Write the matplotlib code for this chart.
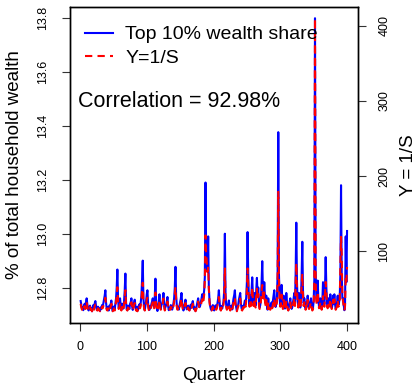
import matplotlib
matplotlib.use("Agg")
import matplotlib.pyplot as plt
import numpy as np

plt.rcParams['font.family'] = ['Liberation Sans', 'DejaVu Sans']

# Top 10% wealth share (% of total household wealth), quarters 1..400
top10_share = [
    12.750, 12.735, 12.722, 12.728, 12.716, 12.731, 12.740, 12.725, 12.745, 12.760, 12.738, 12.720, 12.715, 12.727, 12.733, 12.719, 12.724, 12.712, 12.726, 12.735,
    12.722, 12.741, 12.750, 12.733, 12.720, 12.716, 12.729, 12.724, 12.718, 12.713, 12.726, 12.721, 12.735, 12.728, 12.742, 12.755, 12.770, 12.790, 12.745, 12.722,
    12.718, 12.728, 12.715, 12.733, 12.726, 12.738, 12.752, 12.724, 12.713, 12.721, 12.730, 12.719, 12.741, 12.760, 12.800, 12.867, 12.760, 12.725, 12.736, 12.760,
    12.731, 12.718, 12.740, 12.727, 12.722, 12.748, 12.790, 12.852, 12.745, 12.720, 12.716, 12.733, 12.728, 12.721, 12.739, 12.746, 12.760, 12.731, 12.717, 12.728,
    12.744, 12.755, 12.733, 12.719, 12.726, 12.713, 12.730, 12.722, 12.738, 12.727, 12.745, 12.770, 12.830, 12.900, 12.760, 12.728, 12.716, 12.734, 12.749, 12.775,
    12.790, 12.741, 12.722, 12.717, 12.731, 12.726, 12.739, 12.748, 12.760, 12.735, 12.728, 12.765, 12.833, 12.752, 12.724, 12.713, 12.730, 12.745, 12.775, 12.738,
    12.722, 12.735, 12.741, 12.752, 12.780, 12.740, 12.719, 12.728, 12.734, 12.748, 12.765, 12.732, 12.716, 12.724, 12.720, 12.735, 12.729, 12.718, 12.726, 12.741,
    12.760, 12.800, 12.877, 12.770, 12.735, 12.721, 12.729, 12.718, 12.733, 12.745, 12.758, 12.780, 12.744, 12.726, 12.715, 12.731, 12.739, 12.755, 12.727, 12.719,
    12.724, 12.733, 12.721, 12.716, 12.728, 12.737, 12.725, 12.741, 12.750, 12.731, 12.719, 12.726, 12.713, 12.722, 12.735, 12.748, 12.760, 12.739, 12.727, 12.733,
    12.745, 12.758, 12.775, 12.752, 12.768, 12.790, 12.840, 13.190, 12.930, 12.880, 12.860, 12.990, 12.800, 12.752, 12.731, 12.720, 12.716, 12.728, 12.735, 12.722,
    12.715, 12.726, 12.734, 12.721, 12.729, 12.743, 12.760, 12.790, 12.748, 12.724, 12.716, 12.731, 12.722, 12.735, 12.748, 12.790, 13.000, 12.775, 12.735, 12.721,
    12.729, 12.738, 12.752, 12.727, 12.717, 12.724, 12.733, 12.719, 12.742, 12.760, 12.772, 12.790, 12.745, 12.726, 12.714, 12.729, 12.736, 12.755, 12.768, 12.780,
    12.742, 12.723, 12.718, 12.731, 12.727, 12.740, 12.752, 12.738, 12.765, 12.820, 13.006, 12.850, 12.760, 12.735, 12.770, 12.742, 12.790, 12.838, 12.770, 12.741,
    12.780, 12.752, 12.733, 12.790, 12.836, 12.770, 12.800, 12.749, 12.726, 12.735, 12.760, 12.820, 12.898, 12.790, 12.760, 12.820, 12.768, 12.742, 12.770, 12.731,
    12.718, 12.760, 12.725, 12.731, 12.722, 12.738, 12.745, 12.727, 12.752, 12.770, 12.790, 12.745, 12.728, 12.740, 12.760, 12.850, 13.377, 12.850, 12.760, 12.735,
    12.752, 12.810, 12.745, 12.726, 12.770, 12.738, 12.722, 12.733, 12.780, 12.748, 12.725, 12.716, 12.730, 12.743, 12.760, 12.734, 12.721, 12.728, 12.746, 12.760,
    12.780, 12.740, 12.850, 13.041, 12.820, 12.750, 12.731, 12.780, 12.745, 12.726, 12.760, 12.850, 12.970, 12.790, 12.742, 12.760, 12.733, 12.722, 12.745, 12.729,
    12.770, 12.738, 12.724, 12.731, 12.748, 12.760, 12.735, 12.719, 12.726, 12.750, 12.830, 13.800, 12.860, 12.760, 12.745, 12.826, 12.760, 12.730, 12.741, 12.760,
    12.735, 12.722, 12.748, 12.820, 12.760, 12.738, 12.800, 12.913, 12.800, 12.745, 12.728, 12.760, 12.736, 12.752, 12.775, 12.742, 12.725, 12.733, 12.770, 12.740,
    12.775, 12.738, 12.722, 12.729, 12.744, 12.770, 12.735, 12.745, 12.760, 12.850, 13.180, 12.850, 12.760, 12.760, 12.735, 12.716, 12.740, 12.990, 12.820, 13.010,
]

# Y = 1/S, same quarters
inv_s = [
    30, 25, 22, 24, 21, 25, 27, 23, 29, 32, 26, 22, 21, 23, 26, 22, 23, 20, 24, 26,
    22, 27, 29, 25, 22, 21, 24, 23, 21, 20, 24, 22, 26, 24, 27, 31, 34, 38, 28, 22,
    21, 24, 21, 25, 23, 26, 30, 23, 20, 22, 24, 21, 27, 32, 41, 52, 33, 23, 26, 31,
    25, 21, 27, 24, 22, 29, 39, 48, 28, 22, 21, 25, 24, 22, 27, 28, 32, 25, 21, 24,
    28, 31, 25, 21, 23, 20, 24, 22, 26, 24, 28, 35, 47, 58, 33, 24, 21, 25, 29, 36,
    38, 27, 22, 21, 25, 23, 27, 29, 32, 26, 24, 33, 45, 30, 23, 20, 24, 28, 35, 26,
    22, 26, 27, 30, 37, 27, 21, 24, 25, 29, 33, 25, 21, 23, 22, 26, 24, 21, 23, 27,
    32, 42, 52, 35, 26, 22, 24, 21, 25, 28, 32, 37, 28, 23, 21, 25, 27, 31, 24, 21,
    23, 25, 22, 21, 24, 26, 23, 27, 30, 25, 21, 23, 20, 22, 26, 29, 33, 27, 24, 25,
    28, 32, 36, 30, 34, 42, 62, 121, 96, 84, 72, 78, 50, 32, 25, 22, 21, 24, 26, 22,
    21, 23, 25, 22, 24, 28, 32, 39, 29, 23, 21, 25, 22, 26, 29, 40, 77, 36, 26, 22,
    24, 26, 30, 24, 21, 23, 25, 21, 27, 32, 35, 38, 28, 23, 20, 24, 26, 31, 34, 37,
    27, 22, 21, 25, 24, 27, 30, 26, 34, 48, 77, 55, 33, 26, 35, 27, 40, 52, 35, 27,
    37, 30, 25, 40, 50, 36, 43, 29, 23, 26, 33, 46, 55, 41, 33, 45, 34, 27, 35, 25,
    21, 32, 23, 25, 22, 26, 28, 24, 30, 35, 37, 28, 24, 27, 32, 60, 179, 62, 33, 26,
    30, 42, 28, 23, 35, 26, 22, 25, 34, 29, 23, 21, 24, 28, 32, 25, 22, 24, 28, 32,
    37, 27, 55, 84, 48, 30, 25, 37, 28, 23, 33, 55, 70, 41, 27, 32, 25, 22, 28, 24,
    35, 26, 23, 25, 29, 32, 26, 21, 23, 30, 60, 410, 62, 33, 28, 46, 32, 24, 27, 32,
    26, 22, 29, 40, 33, 26, 44, 59, 45, 28, 24, 32, 26, 30, 36, 27, 23, 25, 35, 27,
    36, 26, 22, 24, 28, 35, 26, 28, 32, 80, 119, 95, 40, 33, 26, 21, 27, 66, 60, 79,
]

quarters = np.arange(1, len(top10_share) + 1)
left_ticks = [12.8, 13.0, 13.2, 13.4, 13.6, 13.8]
right_ticks = [100, 200, 300, 400]
x_ticks = [0, 100, 200, 300, 400]
corr_label = "Correlation = 92.98%"


def padded(vals, frac=0.04):
    lo, hi = min(vals), max(vals)
    pad = (hi - lo) * frac
    return lo - pad, hi + pad


fig = plt.figure(figsize=(4.18, 3.83), dpi=100)
ax = fig.add_axes([70 / 418, 60 / 383, 287.7 / 418, 316.5 / 383])
ax2 = ax.twinx()

ax.plot(quarters, top10_share, color='#0000ff', lw=1.5, label='Top 10% wealth share')
ax2.plot(quarters, inv_s, color='#ff0000', lw=1.5, ls=(0, (3.5, 2.5)), label='Y=1/S')

ax.set_xlim(padded(quarters))
ax.set_ylim(padded(top10_share))
ax2.set_ylim(padded(inv_s))

ax.set_xticks(x_ticks)
ax.set_xticklabels([str(t) for t in x_ticks])
ax.set_yticks(left_ticks)
ax.set_yticklabels([f"{t:.1f}" for t in left_ticks], rotation=90, va='center')
ax2.set_yticks(right_ticks)
ax2.set_yticklabels([str(t) for t in right_ticks], rotation=90, va='center')

for a in (ax, ax2):
    a.tick_params(labelsize=9, length=6, width=0.8, color='#333333')
    for s in a.spines.values():
        s.set_linewidth(1.0)
ax.tick_params(axis='x', pad=7)
ax.tick_params(axis='y', pad=9)
ax2.tick_params(axis='y', pad=9)

ax.set_xlabel("Quarter", fontsize=13.5, labelpad=10)
ax.set_ylabel("% of total household wealth", fontsize=13.5, labelpad=10)
ax2.set_ylabel("Y = 1/S", fontsize=13.5, labelpad=7)

h1, l1 = ax.get_legend_handles_labels()
h2, l2 = ax2.get_legend_handles_labels()
ax2.legend(h1 + h2, l1 + l2, loc='upper left', bbox_to_anchor=(0.0, 0.985),
           frameon=False, fontsize=14, handlelength=1.45, handletextpad=0.65,
           labelspacing=0.3, borderaxespad=0.35)

ax.text(0.028, 0.70, corr_label, transform=ax.transAxes, fontsize=15.5,
        ha='left', va='center')

fig.savefig("out.png", dpi=100)
